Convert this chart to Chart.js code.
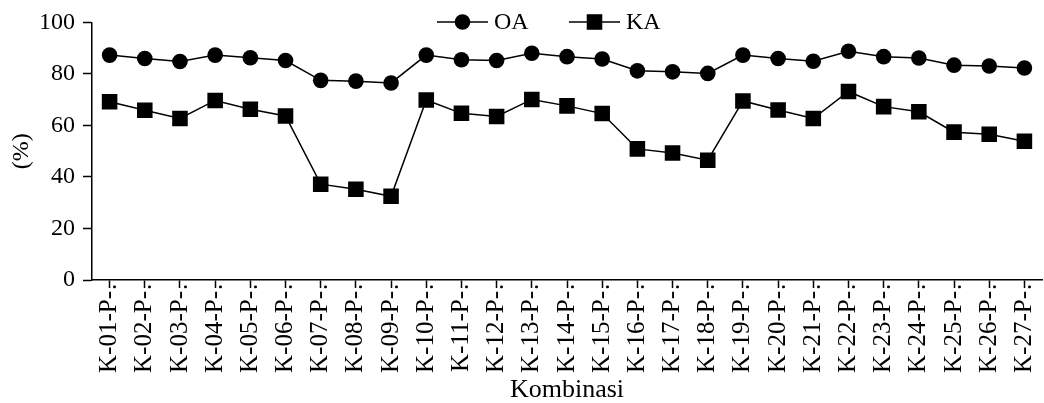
<!DOCTYPE html>
<html>
<head>
<meta charset="utf-8">
<script src="https://cdn.jsdelivr.net/npm/chart.js@4.4.1/dist/chart.umd.min.js"></script>
<style>
    html, body { margin: 0; padding: 0; background: #fff; }
    #wrap { width: 1044px; height: 403px; }
</style>
</head>
<body>
<div id="wrap"><canvas id="kombinasiChart"></canvas></div>
<script>
const kombinasiLabels = [
    "K-01-P-…", "K-02-P-…", "K-03-P-…", "K-04-P-…", "K-05-P-…", "K-06-P-…", "K-07-P-…", "K-08-P-…", "K-09-P-…",
    "K-10-P-…", "K-11-P-…", "K-12-P-…", "K-13-P-…", "K-14-P-…", "K-15-P-…", "K-16-P-…", "K-17-P-…", "K-18-P-…",
    "K-19-P-…", "K-20-P-…", "K-21-P-…", "K-22-P-…", "K-23-P-…", "K-24-P-…", "K-25-P-…", "K-26-P-…", "K-27-P-…"
];
const oaValues = [
    87.3, 86.0, 84.8, 87.3, 86.3, 85.2, 77.5, 77.2, 76.5,
    87.3, 85.5, 85.2, 88.0, 86.7, 85.8, 81.2, 80.8, 80.2,
    87.3, 86.0, 84.9, 88.8, 86.7, 86.2, 83.4, 83.1, 82.3
];
const kaValues = [
    69.2, 65.9, 62.7, 69.7, 66.3, 63.7, 37.2, 35.2, 32.5,
    69.9, 64.7, 63.5, 70.1, 67.6, 64.6, 50.9, 49.3, 46.5,
    69.5, 66.0, 62.7, 73.2, 67.3, 65.3, 57.4, 56.6, 53.9
];
const yMin = 0;
const yMax = 100;
const yStep = 20;

const serif = "'Liberation Serif', 'Times New Roman', serif";

// legend drawn inside the plot: line - marker - line, then the label
const lineLegend = {
    id: 'lineLegend',
    afterDatasetsDraw(chart, args, opts) {
        const ctx = chart.ctx;
        ctx.save();
        ctx.font = opts.font;
        ctx.fillStyle = '#000';
        ctx.strokeStyle = '#000';
        ctx.textBaseline = 'middle';
        chart.data.datasets.forEach((ds, i) => {
            const x = opts.x[i];
            const y = opts.y;
            ctx.lineWidth = 1.5;
            ctx.beginPath();
            ctx.moveTo(x, y);
            ctx.lineTo(x + opts.lineLength, y);
            ctx.stroke();
            const cx = x + opts.lineLength / 2;
            if (ds.pointStyle === 'rect') {
                const s = ds.pointRadius * Math.SQRT1_2;
                ctx.fillRect(cx - s, y - s, 2 * s, 2 * s);
            } else {
                ctx.beginPath();
                ctx.arc(cx, y, ds.pointRadius, 0, Math.PI * 2);
                ctx.fill();
            }
            ctx.fillText(ds.label, x + opts.lineLength + 6, y + 1);
        });
        ctx.restore();
    }
};

new Chart("kombinasiChart", {
    type: 'line',
    data: {
        labels: kombinasiLabels,
        datasets: [{
            label: 'OA',
            data: oaValues,
            borderColor: '#000',
            backgroundColor: '#000',
            borderWidth: 1.5,
            pointStyle: 'circle',
            pointRadius: 7.8,
            pointBorderWidth: 0,
            pointBackgroundColor: '#000',
            tension: 0
        }, {
            label: 'KA',
            data: kaValues,
            borderColor: '#000',
            backgroundColor: '#000',
            borderWidth: 1.5,
            pointStyle: 'rect',
            pointRadius: 11,
            pointBorderWidth: 0,
            pointBackgroundColor: '#000',
            tension: 0
        }]
    },
    options: {
        responsive: true,
        maintainAspectRatio: false,
        animation: false,
        layout: {
            autoPadding: false,
            padding: { top: 18, right: 2, bottom: 0, left: 0 }
        },
        scales: {
            x: {
                offset: true,
                afterFit: (scale) => { scale.height = 123; },
                grid: {
                    offset: false,
                    drawOnChartArea: false,
                    drawTicks: true,
                    tickLength: 8,
                    tickWidth: 1.5,
                    tickColor: '#000'
                },
                border: { color: '#000', width: 1.5 },
                ticks: {
                    autoSkip: false,
                    minRotation: 90,
                    maxRotation: 90,
                    padding: -22,
                    color: '#000',
                    font: { family: serif, size: 25 }
                },
                title: {
                    display: true,
                    text: 'Kombinasi',
                    color: '#000',
                    font: { family: serif, size: 26 },
                    padding: { top: 0, bottom: -3 }
                }
            },
            y: {
                min: yMin,
                max: yMax,
                afterFit: (scale) => { scale.width = 92; },
                grid: {
                    drawOnChartArea: false,
                    drawTicks: true,
                    tickLength: 9,
                    tickWidth: 1.5,
                    tickColor: '#000'
                },
                border: { color: '#000', width: 1.5 },
                ticks: {
                    stepSize: yStep,
                    padding: 8,
                    color: '#000',
                    font: { family: serif, size: 24 }
                },
                title: {
                    display: true,
                    text: '(%)',
                    color: '#000',
                    font: { family: serif, size: 24 },
                    padding: { top: 7, bottom: 0 }
                }
            }
        },
        plugins: {
            legend: { display: false },
            tooltip: { enabled: false },
            lineLegend: {
                x: [437, 569],
                y: 22,
                lineLength: 51,
                font: "24px " + serif
            }
        }
    },
    plugins: [lineLegend]
});
</script>
</body>
</html>
